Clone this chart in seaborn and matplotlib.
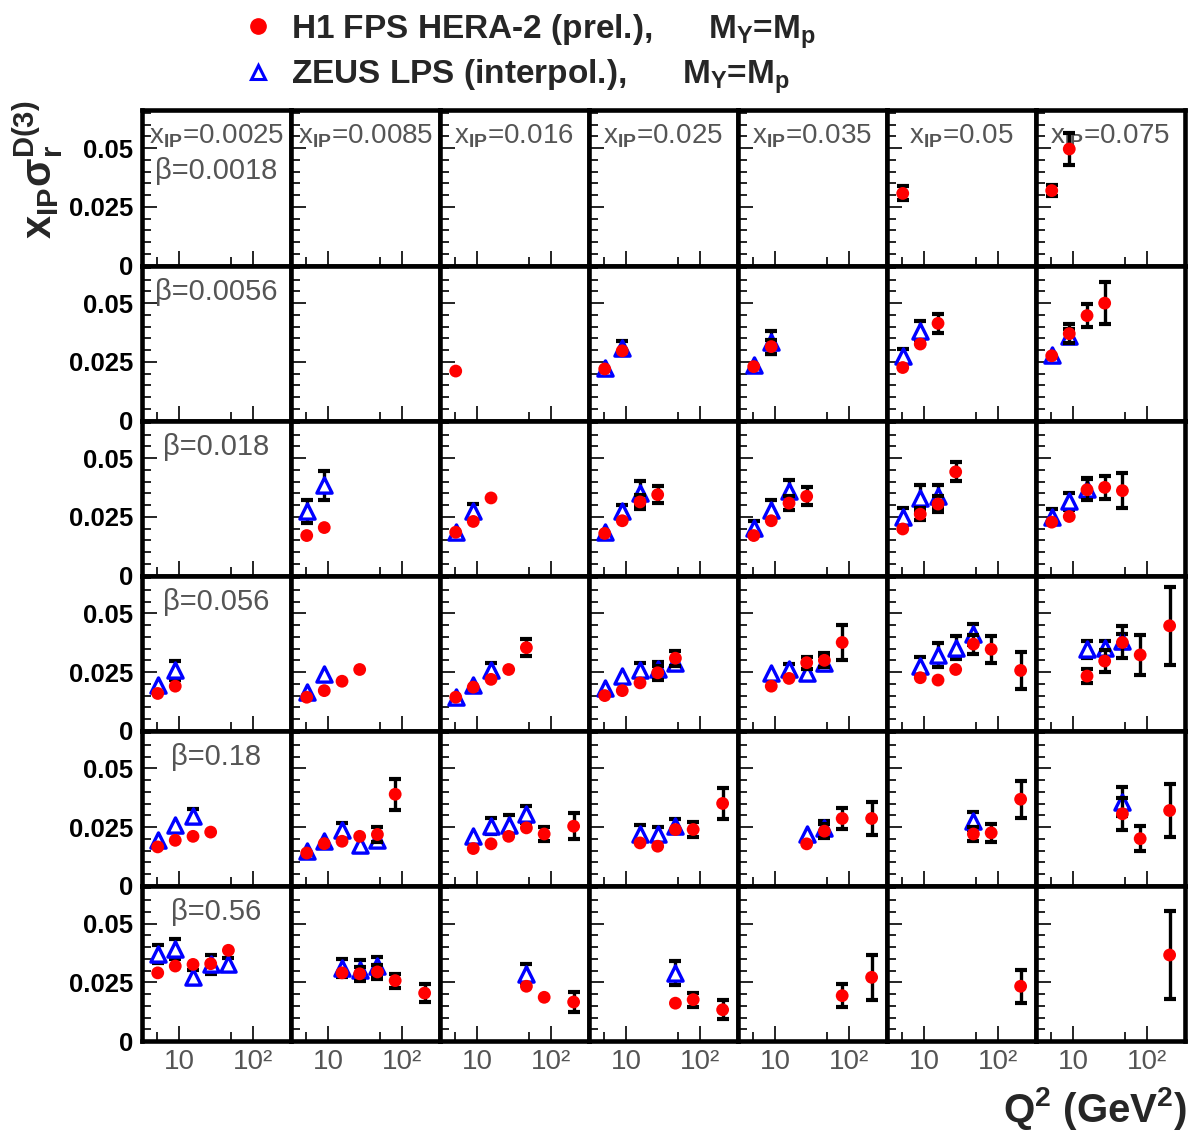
import matplotlib
matplotlib.use("Agg")
import matplotlib.pyplot as plt
from matplotlib.lines import Line2D
from matplotlib.ticker import FixedLocator, FixedFormatter, MultipleLocator, NullFormatter
import pandas as pd
import seaborn as sns

# ---- binning -------------------------------------------------------------
XPOM = [0.0025, 0.0085, 0.016, 0.025, 0.035, 0.05, 0.075]
BETA = [0.0018, 0.0056, 0.018, 0.056, 0.18, 0.56]

Q2_TICKS = [10, 100]
Q2_TICK_LABELS = ["10", "10²"]
Q2_MINOR = [5, 50]
Y_TICKS = [0.0, 0.025, 0.05]
Y_TICK_LABELS = ["0", "0.025", "0.05"]

# ---- measurements: (x_pom, Q2 [GeV^2], x_pom*sigma_r^D(3), error) ---------
H1_B0018 = [(0.05, 5.1, 0.0307, 0.0030), (0.075, 5.1, 0.0319, 0.0025),
            (0.075, 8.8, 0.0496, 0.0067)]
H1_B0056 = [(0.016, 5.1, 0.0211, 0.0015),
            (0.025, 5.1, 0.0220, 0.0015), (0.025, 8.8, 0.0297, 0.0020),
            (0.035, 5.1, 0.0230, 0.0015), (0.035, 8.8, 0.0315, 0.0030),
            (0.05, 5.1, 0.0226, 0.0020), (0.05, 8.8, 0.0326, 0.0020),
            (0.05, 15.3, 0.0414, 0.0040),
            (0.075, 5.1, 0.0276, 0.0020), (0.075, 8.8, 0.0370, 0.0040),
            (0.075, 15.3, 0.0447, 0.0050), (0.075, 26.5, 0.0500, 0.0088)]
H1_B018 = [(0.0085, 5.1, 0.0171, 0.0015), (0.0085, 8.8, 0.0205, 0.0015),
           (0.016, 5.1, 0.0185, 0.0015), (0.016, 8.8, 0.0231, 0.0015),
           (0.016, 15.3, 0.0331, 0.0020),
           (0.025, 5.1, 0.0180, 0.0015), (0.025, 8.8, 0.0234, 0.0020),
           (0.025, 15.3, 0.0314, 0.0030), (0.025, 26.5, 0.0345, 0.0036),
           (0.035, 5.1, 0.0171, 0.0015), (0.035, 8.8, 0.0234, 0.0020),
           (0.035, 15.3, 0.0309, 0.0030), (0.035, 26.5, 0.0338, 0.0038),
           (0.05, 5.1, 0.0199, 0.0020), (0.05, 8.8, 0.0262, 0.0025),
           (0.05, 15.3, 0.0305, 0.0035), (0.05, 26.5, 0.0442, 0.0040),
           (0.075, 5.1, 0.0228, 0.0020), (0.075, 8.8, 0.0252, 0.0020),
           (0.075, 15.3, 0.0366, 0.0045), (0.075, 26.5, 0.0376, 0.0050),
           (0.075, 46, 0.0362, 0.0075)]
H1_B056 = [(0.0025, 5.1, 0.0159, 0.0015), (0.0025, 8.8, 0.0190, 0.0015),
           (0.0085, 5.1, 0.0143, 0.0015), (0.0085, 8.8, 0.0171, 0.0015),
           (0.0085, 15.3, 0.0211, 0.0015), (0.0085, 26.5, 0.0261, 0.0015),
           (0.016, 5.1, 0.0143, 0.0015), (0.016, 8.8, 0.0186, 0.0015),
           (0.016, 15.3, 0.0219, 0.0020), (0.016, 26.5, 0.0261, 0.0015),
           (0.016, 46, 0.0354, 0.0035),
           (0.025, 5.1, 0.0150, 0.0015), (0.025, 8.8, 0.0171, 0.0015),
           (0.025, 15.3, 0.0204, 0.0020), (0.025, 26.5, 0.0247, 0.0030),
           (0.025, 46, 0.0309, 0.0032),
           (0.035, 8.8, 0.0190, 0.0015), (0.035, 15.3, 0.0223, 0.0020),
           (0.035, 26.5, 0.0290, 0.0025), (0.035, 46, 0.0300, 0.0030),
           (0.035, 80, 0.0376, 0.0075),
           (0.05, 8.8, 0.0226, 0.0020), (0.05, 15.3, 0.0216, 0.0015),
           (0.05, 26.5, 0.0261, 0.0020), (0.05, 46, 0.0369, 0.0040),
           (0.05, 80, 0.0347, 0.0057), (0.05, 200, 0.0257, 0.0078),
           (0.075, 15.3, 0.0233, 0.0030), (0.075, 26.5, 0.0297, 0.0045),
           (0.075, 46, 0.0376, 0.0068), (0.075, 80, 0.0323, 0.0085),
           (0.075, 200, 0.0447, 0.0166)]
H1_B18 = [(0.0025, 5.1, 0.0166, 0.0015), (0.0025, 8.8, 0.0194, 0.0015),
          (0.0025, 15.3, 0.0211, 0.0015), (0.0025, 26.5, 0.0229, 0.0015),
          (0.0085, 5.1, 0.0140, 0.0015), (0.0085, 8.8, 0.0180, 0.0015),
          (0.0085, 15.3, 0.0190, 0.0015), (0.0085, 26.5, 0.0211, 0.0015),
          (0.0085, 46, 0.0219, 0.0030), (0.0085, 80, 0.0390, 0.0066),
          (0.016, 8.8, 0.0159, 0.0015), (0.016, 15.3, 0.0179, 0.0015),
          (0.016, 26.5, 0.0211, 0.0015), (0.016, 46, 0.0247, 0.0020),
          (0.016, 80, 0.0221, 0.0030), (0.016, 200, 0.0254, 0.0055),
          (0.025, 15.3, 0.0183, 0.0015), (0.025, 26.5, 0.0169, 0.0015),
          (0.025, 46, 0.0240, 0.0020), (0.025, 80, 0.0240, 0.0030),
          (0.025, 200, 0.0351, 0.0065),
          (0.035, 26.5, 0.0179, 0.0015), (0.035, 46, 0.0233, 0.0030),
          (0.035, 80, 0.0287, 0.0045), (0.035, 200, 0.0287, 0.0070),
          (0.05, 46, 0.0221, 0.0030), (0.05, 80, 0.0226, 0.0037),
          (0.05, 200, 0.0369, 0.0078),
          (0.075, 46, 0.0307, 0.0068), (0.075, 80, 0.0201, 0.0054),
          (0.075, 200, 0.0321, 0.0114)]
H1_B56 = [(0.0025, 5.1, 0.0290, 0.0015), (0.0025, 8.8, 0.0319, 0.0015),
          (0.0025, 15.3, 0.0326, 0.0015), (0.0025, 26.5, 0.0329, 0.0020),
          (0.0025, 46, 0.0386, 0.0020),
          (0.0085, 15.3, 0.0290, 0.0020), (0.0085, 26.5, 0.0286, 0.0030),
          (0.0085, 46, 0.0294, 0.0030), (0.0085, 80, 0.0257, 0.0030),
          (0.0085, 200, 0.0204, 0.0040),
          (0.016, 46, 0.0233, 0.0015), (0.016, 80, 0.0186, 0.0020),
          (0.016, 200, 0.0166, 0.0044),
          (0.025, 46, 0.0161, 0.0015), (0.025, 80, 0.0176, 0.0030),
          (0.025, 200, 0.0133, 0.0040),
          (0.035, 80, 0.0193, 0.0050), (0.035, 200, 0.0271, 0.0095),
          (0.05, 200, 0.0233, 0.0071),
          (0.075, 200, 0.0366, 0.0186)]

ZEUS_B0056 = [(0.025, 5.1, 0.0225, 0.0015), (0.025, 8.8, 0.0310, 0.0030),
              (0.035, 5.1, 0.0235, 0.0015), (0.035, 8.8, 0.0333, 0.0050),
              (0.05, 5.1, 0.0276, 0.0030), (0.05, 8.8, 0.0383, 0.0040),
              (0.075, 5.1, 0.0280, 0.0020), (0.075, 8.8, 0.0360, 0.0030)]
ZEUS_B018 = [(0.0085, 5.1, 0.0274, 0.0050), (0.0085, 8.8, 0.0384, 0.0060),
             (0.016, 5.1, 0.0188, 0.0015), (0.016, 8.8, 0.0274, 0.0030),
             (0.025, 5.1, 0.0188, 0.0015), (0.025, 8.8, 0.0274, 0.0025),
             (0.025, 15.3, 0.0352, 0.0050),
             (0.035, 5.1, 0.0202, 0.0030), (0.035, 8.8, 0.0281, 0.0040),
             (0.035, 15.3, 0.0359, 0.0050),
             (0.05, 5.1, 0.0252, 0.0035), (0.05, 8.8, 0.0331, 0.0055),
             (0.05, 15.3, 0.0338, 0.0050),
             (0.075, 5.1, 0.0252, 0.0030), (0.075, 8.8, 0.0316, 0.0035),
             (0.075, 15.3, 0.0370, 0.0045)]
ZEUS_B056 = [(0.0025, 5.1, 0.0197, 0.0020), (0.0025, 8.8, 0.0257, 0.0040),
             (0.0085, 5.1, 0.0166, 0.0015), (0.0085, 8.8, 0.0240, 0.0020),
             (0.016, 5.1, 0.0143, 0.0015), (0.016, 8.8, 0.0197, 0.0020),
             (0.016, 15.3, 0.0257, 0.0030),
             (0.025, 5.1, 0.0183, 0.0015), (0.025, 8.8, 0.0233, 0.0020),
             (0.025, 15.3, 0.0257, 0.0030), (0.025, 26.5, 0.0261, 0.0030),
             (0.025, 46, 0.0290, 0.0020),
             (0.035, 8.8, 0.0247, 0.0020), (0.035, 15.3, 0.0261, 0.0025),
             (0.035, 26.5, 0.0247, 0.0020), (0.035, 46, 0.0290, 0.0030),
             (0.05, 8.8, 0.0276, 0.0040), (0.05, 15.3, 0.0323, 0.0050),
             (0.05, 26.5, 0.0354, 0.0050), (0.05, 46, 0.0411, 0.0045),
             (0.075, 15.3, 0.0347, 0.0035), (0.075, 26.5, 0.0354, 0.0030),
             (0.075, 46, 0.0383, 0.0030)]
ZEUS_B18 = [(0.0025, 5.1, 0.0197, 0.0015), (0.0025, 8.8, 0.0261, 0.0015),
            (0.0025, 15.3, 0.0297, 0.0030),
            (0.0085, 5.1, 0.0147, 0.0015), (0.0085, 8.8, 0.0190, 0.0015),
            (0.0085, 15.3, 0.0236, 0.0030), (0.0085, 26.5, 0.0176, 0.0015),
            (0.0085, 46, 0.0197, 0.0020),
            (0.016, 8.8, 0.0211, 0.0015), (0.016, 15.3, 0.0254, 0.0035),
            (0.016, 26.5, 0.0261, 0.0040), (0.016, 46, 0.0304, 0.0035),
            (0.025, 15.3, 0.0221, 0.0040), (0.025, 26.5, 0.0221, 0.0030),
            (0.025, 46, 0.0254, 0.0030),
            (0.035, 26.5, 0.0219, 0.0020), (0.035, 46, 0.0247, 0.0030),
            (0.05, 46, 0.0276, 0.0040),
            (0.075, 46, 0.0359, 0.0060)]
ZEUS_B56 = [(0.0025, 5.1, 0.0371, 0.0037), (0.0025, 8.8, 0.0390, 0.0043),
            (0.0025, 15.3, 0.0271, 0.0030), (0.0025, 26.5, 0.0326, 0.0040),
            (0.0025, 46, 0.0329, 0.0025),
            (0.0085, 15.3, 0.0311, 0.0040), (0.0085, 26.5, 0.0304, 0.0040),
            (0.0085, 46, 0.0319, 0.0040),
            (0.016, 46, 0.0286, 0.0040),
            (0.025, 46, 0.0290, 0.0050)]


def to_frame(by_beta):
    rec = []
    for beta, pts in by_beta.items():
        for xp, q2, val, err in pts:
            rec.append(dict(beta=beta, xpom=xp, q2=q2, val=val, err=err))
    return pd.DataFrame(rec)


h1 = to_frame({0.0018: H1_B0018, 0.0056: H1_B0056, 0.018: H1_B018,
               0.056: H1_B056, 0.18: H1_B18, 0.56: H1_B56})
zeus = to_frame({0.0056: ZEUS_B0056, 0.018: ZEUS_B018, 0.056: ZEUS_B056,
                 0.18: ZEUS_B18, 0.56: ZEUS_B56})

# ---- style ---------------------------------------------------------------
sns.set_theme(style="ticks")
plt.rcParams.update({
    "font.family": ["Liberation Sans", "DejaVu Sans"],
    "mathtext.fontset": "custom",
    "mathtext.rm": "Liberation Sans",
    "mathtext.it": "Liberation Sans:italic",
    "mathtext.bf": "Liberation Sans:bold",
    "mathtext.sf": "Liberation Sans",
    "mathtext.default": "regular",
})

LABEL_GREY = "#555555"
ERR_KW = dict(fmt="none", ecolor="black", elinewidth=2.4, capsize=4.5,
              capthick=3.0)
# error bars shorter than the marker itself are not drawn
MIN_VISIBLE_ERR = 0.0022

fig, axes = plt.subplots(len(BETA), len(XPOM), figsize=(11.92, 11.34),
                         dpi=100, sharex=True, sharey=True)
fig.subplots_adjust(left=0.1189, right=0.9939, top=0.9026, bottom=0.0820,
                    wspace=0, hspace=0)

for ax in axes.flat:
    ax.set_xscale("log")

for i, beta in enumerate(BETA):
    for j, xp in enumerate(XPOM):
        ax = axes[i, j]
        z = zeus[(zeus.beta == beta) & (zeus.xpom == xp)]
        h = h1[(h1.beta == beta) & (h1.xpom == xp)]
        if len(z):
            ze = z[z.err > MIN_VISIBLE_ERR]
            ax.errorbar(ze.q2, ze.val, yerr=ze.err, zorder=2, **ERR_KW)
            sns.scatterplot(x=z.q2.values, y=z.val.values, ax=ax, marker="^",
                            s=120, facecolor="white", edgecolor="blue",
                            linewidth=2.4, zorder=3, legend=False)
        if len(h):
            he = h[h.err > MIN_VISIBLE_ERR]
            ax.errorbar(he.q2, he.val, yerr=he.err, zorder=4, **ERR_KW)
            sns.scatterplot(x=h.q2.values, y=h.val.values, ax=ax, marker="o",
                            s=85, color="red", edgecolor="none",
                            zorder=5, legend=False)

        ax.set_xlim(3.1, 320)
        ax.set_ylim(0, 0.066)
        ax.xaxis.set_major_locator(FixedLocator(Q2_TICKS))
        ax.xaxis.set_major_formatter(FixedFormatter(Q2_TICK_LABELS))
        ax.xaxis.set_minor_locator(FixedLocator(Q2_MINOR))
        ax.xaxis.set_minor_formatter(NullFormatter())
        ax.yaxis.set_major_locator(FixedLocator(Y_TICKS))
        ax.yaxis.set_major_formatter(FixedFormatter(Y_TICK_LABELS))
        ax.yaxis.set_minor_locator(MultipleLocator(0.005))
        ax.yaxis.set_minor_formatter(NullFormatter())
        ax.set_xlabel("")
        ax.set_ylabel("")

        ax.tick_params(which="both", direction="in", top=False, right=False,
                       width=1.2, color="black")
        ax.tick_params(which="major", length=11)
        ax.tick_params(which="minor", length=6.5)
        ax.tick_params(axis="y", which="major", labelsize=18.5, pad=6,
                       labelcolor="black")
        ax.tick_params(axis="x", which="major", labelsize=20, pad=6,
                       labelcolor=LABEL_GREY)
        for s in ax.spines.values():
            s.set_linewidth(3.3)
            s.set_color("black")
            s.set_visible(True)

        if i == 0:
            ax.text(0.5, 0.832, r"x$_{\mathbf{IP}}$=" + f"{xp:g}",
                    transform=ax.transAxes, ha="center", va="center",
                    fontsize=20, color=LABEL_GREY)
        if j == 0:
            ax.text(0.5, 0.61 if i == 0 else 0.832, "β=" + f"{beta:g}",
                    transform=ax.transAxes, ha="center", va="center",
                    fontsize=21, color=LABEL_GREY)

for ax in axes[:, 0]:
    for lbl in ax.get_yticklabels():
        lbl.set_fontweight("bold")

# ---- axis titles ---------------------------------------------------------
fig.text(1187 / 1192, 1 - 1108 / 1134,
         r"Q$^{\mathbf{2}}$ (GeV$^{\mathbf{2}}$)",
         ha="right", va="center", fontsize=29, fontweight="bold")
fig.text(38 / 1192, 1 - 170 / 1134,
         r"x$_{\mathbf{IP}}$σ$_{\mathbf{r}}^{\mathbf{D(3)}}$",
         rotation=90, ha="center", va="center", fontsize=30,
         fontweight="bold")

# ---- legend --------------------------------------------------------------
handles = [
    Line2D([], [], ls="none", marker="o", ms=11, color="red"),
    Line2D([], [], ls="none", marker="^", ms=10, mfc="white", mec="blue",
           mew=2.2),
]
labels = [
    r"H1 FPS HERA-2 (prel.),      M$_{\mathbf{Y}}$=M$_{\mathbf{p}}$",
    r"ZEUS LPS (interpol.),      M$_{\mathbf{Y}}$=M$_{\mathbf{p}}$",
]
fig.legend(handles, labels, loc="upper left",
           bbox_to_anchor=(241 / 1192, 1 - 12 / 1134), frameon=False,
           prop={"weight": "bold", "size": 24}, handlelength=1.0,
           handletextpad=0.5, labelspacing=0.2, borderpad=0,
           borderaxespad=0)

fig.savefig("out.png", dpi=100)
